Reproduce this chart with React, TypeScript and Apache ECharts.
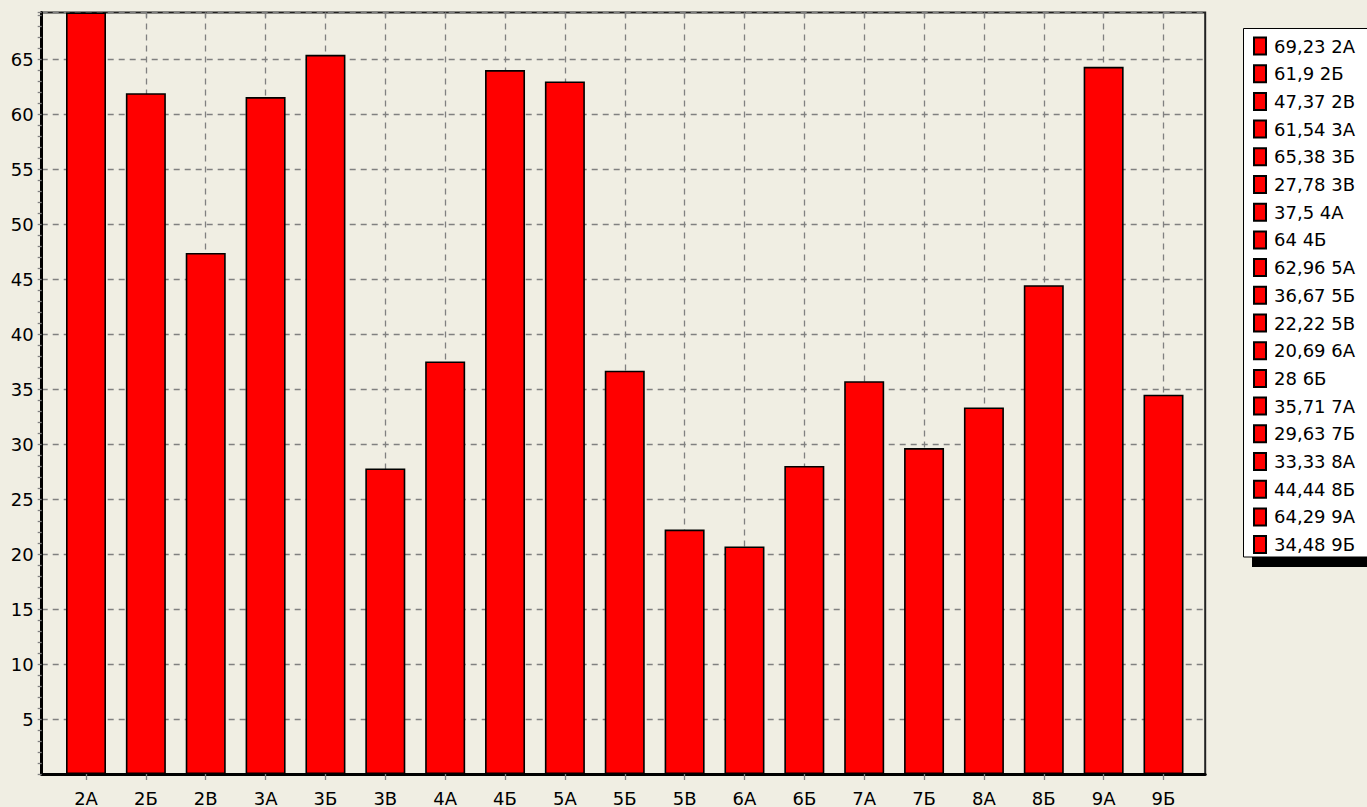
import React, { useEffect, useRef } from "react";
import * as echarts from "echarts";

const categories = ["2А", "2Б", "2В", "3А", "3Б", "3В", "4А", "4Б", "5А", "5Б", "5В", "6А", "6Б", "7А", "7Б", "8А", "8Б", "9А", "9Б"];
const values = [69.23, 61.9, 47.37, 61.54, 65.38, 27.78, 37.5, 64, 62.96, 36.67, 22.22, 20.69, 28, 35.71, 29.63, 33.33, 44.44, 64.29, 34.48];
const yMin = 0;
const yMax = 69.23;
const yInterval = 5;

const FONT = "DejaVu Sans";
const BG = "#f0eee3";

export default function App() {
  const ref = useRef<HTMLDivElement>(null);
  useEffect(() => {
    if (!ref.current) return;
    const chart = echarts.init(ref.current, undefined, { renderer: "svg" });
    const names = values.map((v, i) => `${String(v).replace(".", ",")} ${categories[i]}`);
    const gridTop = 12.5;
    const gridHeight = 761.5;
    const dash = { color: "#808080", type: [6, 5], width: 1.3 };
    const series = values.map((v, i) => ({
      type: "bar",
      name: names[i],
      stack: "all",
      xAxisIndex: 1,
      yAxisIndex: 1,
      barWidth: 40,
      clip: false,
      itemStyle: { color: "#ff0000", borderColor: "#000", borderWidth: 1.6 },
      emphasis: { disabled: true },
      data: categories.map((_, j) => (j === i ? v : "-")),
    }));
    chart.setOption({
      animation: false,
      backgroundColor: BG,
      textStyle: { fontFamily: FONT },
      grid: [
        {
          left: 41.7, top: gridTop, width: 1163.5, height: gridHeight,
          show: true, backgroundColor: BG, borderColor: "#222", borderWidth: 2,
        },
        { left: 86, top: gridTop, width: 1077.5, height: gridHeight },
      ],
      xAxis: [
        {
          gridIndex: 0, type: "value", min: 0, max: 1, position: "bottom",
          axisLine: { show: true, lineStyle: { color: "#000", width: 3 } },
          axisTick: { show: false }, axisLabel: { show: false }, splitLine: { show: false },
        },
        {
          gridIndex: 1, type: "category", data: categories, boundaryGap: false, position: "bottom",
          axisLine: { show: false },
          axisTick: { show: true, length: 6, interval: 0, lineStyle: { color: "#808080", width: 1.3 } },
          axisLabel: { show: true, interval: 0, margin: 15, fontSize: 18, color: "#000", fontFamily: FONT },
          splitLine: { show: true, interval: 0, lineStyle: dash },
        },
        {
          gridIndex: 1, type: "category", data: categories, boundaryGap: false, position: "top",
          axisLine: { show: false },
          axisTick: { show: true, inside: true, length: 5, interval: 0, lineStyle: { color: "#808080", width: 1.3 } },
          axisLabel: { show: false }, splitLine: { show: false },
        },
      ],
      yAxis: [
        {
          gridIndex: 0, type: "value", min: yMin, max: yMax, interval: yInterval,
          axisLine: { show: true, lineStyle: { color: "#000", width: 3 } },
          axisTick: { show: true, length: 4, lineStyle: { color: "#808080", width: 1.3 } },
          minorTick: { show: true, splitNumber: 5, length: 4, lineStyle: { color: "#808080", width: 1.3 } },
          axisLabel: { show: true, margin: 8, fontSize: 18, color: "#000", fontFamily: FONT, showMaxLabel: false, showMinLabel: false },
          splitLine: { show: true, lineStyle: dash },
        },
        {
          gridIndex: 1, type: "value", min: yMin, max: yMax, show: false,
          splitLine: { show: false },
        },
      ],
      legend: {
        show: true,
        orient: "vertical",
        left: 1253,
        top: 36.5,
        padding: 0,
        itemWidth: 12,
        itemHeight: 17,
        itemGap: 8.7,
        icon: "rect",
        selectedMode: false,
        z: 10,
        textStyle: { fontSize: 18, color: "#000", fontFamily: FONT, padding: [0, 0, 0, 3] },
        data: names,
      },
      graphic: [
        { type: "rect", z: 1, shape: { x: 1252, y: 37, width: 200, height: 530 }, style: { fill: "#000" } },
        { type: "rect", z: 2, shape: { x: 1243.5, y: 28.5, width: 200, height: 528.5 }, style: { fill: "#fff", stroke: "#000", lineWidth: 1 } },
      ],
      series,
    });
    return () => chart.dispose();
  }, []);
  return (
    <div
      ref={ref}
      style={{ position: "fixed", left: 0, top: 0, width: 1367, height: 807 }}
    />
  );
}
